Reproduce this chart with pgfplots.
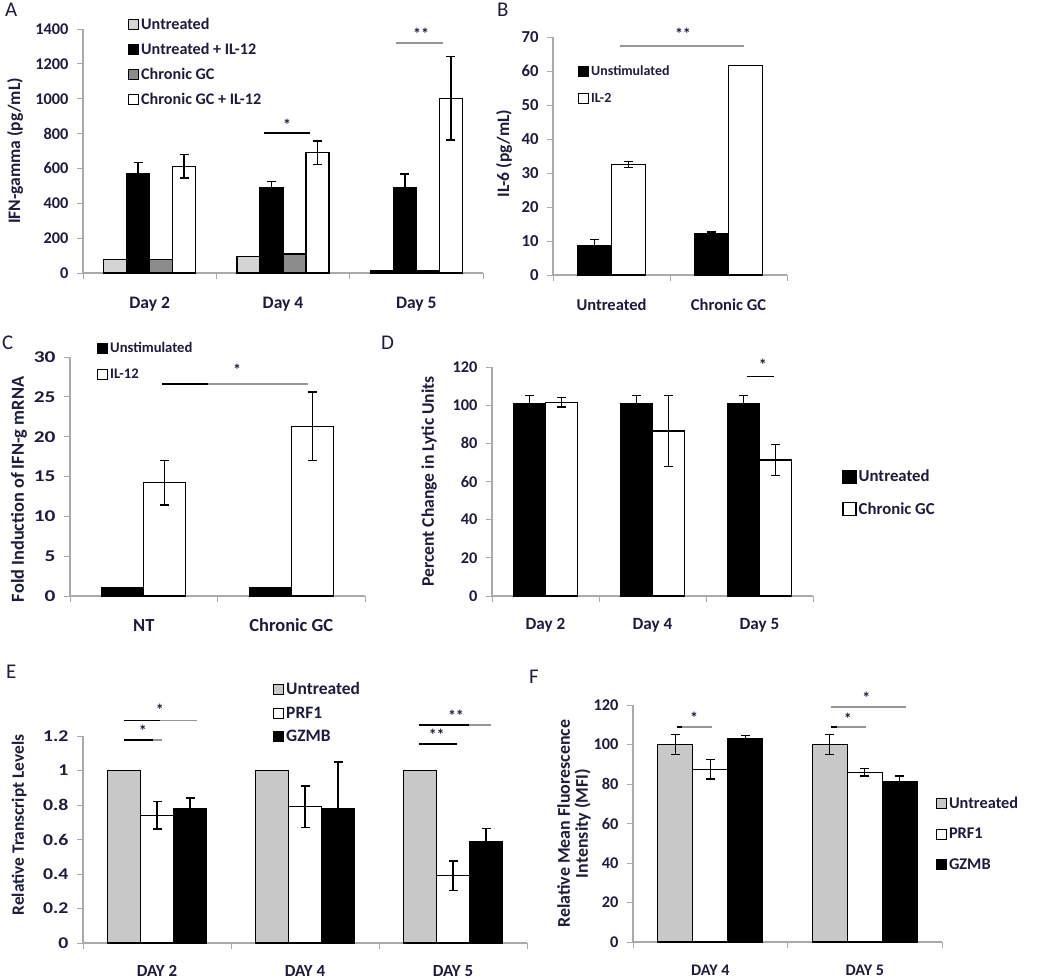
\documentclass[border=0pt]{standalone}
\usepackage{fontspec}
\setmainfont{Carlito}
\newfontfamily\widefont[FakeStretch=1.3]{Carlito}
\newfontfamily\midfont[FakeStretch=1.2]{Carlito}
\usepackage{pgfplots}
\pgfplotsset{compat=1.18}
\definecolor{txt}{RGB}{28,28,60}
\definecolor{lg}{RGB}{212,212,212}
\definecolor{mg}{RGB}{140,140,140}
\definecolor{eg}{RGB}{200,200,200}
\definecolor{axg}{RGB}{170,170,170}
\definecolor{sg}{RGB}{150,150,150}
\newcommand{\fs}[1]{\fontsize{#1}{#1}\selectfont}
\pgfplotsset{
  panel/.style={
    scale only axis, ybar=0pt, clip=false, ymin=0,
    axis x line*=bottom, axis y line*=left,
    axis line style={draw=axg, line width=1.2bp},
    tick align=outside, major tick length=6bp,
    tick style={draw=axg, line width=1bp},
    xticklabels={},
    extra x tick style={major tick length=0pt, tick style={draw=none}},
    tick label style={text=txt, font=\bfseries\fs{16.4}},
    xticklabel style={anchor=base, yshift=-35bp, font=\bfseries\fs{17.4}},
    yticklabel style={xshift=-5bp},
    /pgf/number format/assume math mode=true,
    /pgf/number format/1000 sep={},
    every axis y label/.style={rotate=90, anchor=center, text=txt},
    every axis plot/.append style={draw=black, line width=1.2bp},
    legend image code/.code={\draw[##1, line width=1bp] (0bp,-5bp) rectangle (10bp,5bp);},
    legend style={draw=none, fill=none, inner sep=0pt, anchor=north west, text=txt,
      legend cell align=left, /tikz/every even column/.append style={column sep=2bp}},
  },
  eb/.style={error bars/y dir=both, error bars/y explicit,
    error bars/error bar style={line width=1.4bp, black},
    error bars/error mark options={rotate=90, line width=1.4bp, black, mark size=4.5bp}},
}
\begin{document}
\begin{tikzpicture}[x=1bp,y=1bp]
\useasboundingbox (0,0) rectangle (1050,-980);
\node[anchor=north west, font=\fs{21}, text=txt, inner sep=0pt] at (5,-3) {A};
\node[anchor=north west, font=\fs{21}, text=txt, inner sep=0pt] at (497,-3) {B};
\node[anchor=north west, font=\fs{21}, text=txt, inner sep=0pt] at (2,-336) {C};
\node[anchor=north west, font=\fs{21}, text=txt, inner sep=0pt] at (381,-336) {D};
\node[anchor=north west, font=\fs{21}, text=txt, inner sep=0pt] at (6,-665) {E};
\node[anchor=north west, font=\fs{21}, text=txt, inner sep=0pt] at (529,-670) {F};

% ---------------- A
\begin{axis}[panel, at={(83bp,-273bp)}, anchor=south west, width=400bp, height=244bp,
  xmin=0.5, xmax=3.5, ymax=1400, ytick={0,200,...,1400}, bar width=23bp,
  xtick={0.5,1.5,2.5,3.5}, extra x ticks={1,2,3}, extra x tick labels={Day 2,Day 4,Day 5},
  xticklabel style={font=\bfseries\fs{17.6}},
  ylabel={IFN-gamma (pg/mL)}, ylabel style={at={(axis description cs:-0.17,0.5)}, font=\bfseries\fs{17.6}},
  legend style={at={(axis description cs:0.1125,1.053)}, font=\bfseries\fs{16.2}, row sep=8.3bp}]
\addplot[fill=lg] coordinates {(1,78) (2,94) (3,12)};
\addplot[fill=black, eb] coordinates {(1,570) +- (0,65) (2,492) +- (0,33) (3,492) +- (0,77)};
\addplot[fill=mg] coordinates {(1,78) (2,109) (3,12)};
\addplot[fill=white, eb] coordinates {(1,612) +- (0,68) (2,690) +- (0,67) (3,1003) +- (0,240)};
\legend{Untreated, Untreated + IL-12, Chronic GC, Chronic GC + IL-12}
\draw[black, line width=1.8bp] (axis cs:1.858,802) -- (axis cs:2.203,802);
\node[text=txt, font=\bfseries\fs{16}] at (axis cs:2.03,850) {*};
\draw[sg, line width=1.8bp] (axis cs:2.848,1321) -- (axis cs:3.2,1321);
\node[text=txt, font=\bfseries\fs{16}] at (axis cs:3.035,1375) {**};
\end{axis}

% ---------------- B
\begin{axis}[panel, at={(553bp,-275bp)}, anchor=south west, width=234bp, height=238bp,
  xmin=0.5, xmax=2.5, ymax=70, ytick={0,10,...,70}, bar width=34bp,
  yticklabel style={font=\bfseries\fs{16.8}},
  xtick={0.5,1.5,2.5}, extra x ticks={1,2}, extra x tick labels={Untreated,Chronic GC},
  xticklabel style={font=\bfseries\fs{16.6}},
  ylabel={IL-6 (pg/mL)}, ylabel style={at={(axis description cs:-0.209,0.51)}, font=\bfseries\fs{17.6}},
  legend style={at={(axis description cs:0.107,0.887)}, font=\bfseries\fs{14}, row sep=12bp}]
\addplot[fill=black, eb] coordinates {(1,8.7) +- (0,1.7) (2,12.1) +- (0,0.5)};
\addplot[fill=white, eb] coordinates {(1,32.5) +- (0,0.9) (2,61.6) +- (0,0)};
\legend{Unstimulated, IL-2}
\draw[sg, line width=2bp] (axis cs:1.073,67.5) -- (axis cs:2.132,67.5);
\node[text=txt, font=\bfseries\fs{16}] at (axis cs:1.611,70.8) {**};
\end{axis}

% ---------------- C
\begin{axis}[panel, at={(70bp,-596bp)}, anchor=south west, width=295bp, height=239bp,
  xmin=0.5, xmax=2.5, ymax=30, ytick={0,5,...,30}, bar width=42bp,
  yticklabel style={font=\widefont\bfseries\fs{16.5}},
  xtick={0.5,1.5,2.5}, extra x ticks={1,2}, extra x tick labels={NT,Chronic GC},
  xticklabel style={font=\bfseries\fs{18.5}},
  ylabel={Fold Induction of IFN-g mRNA}, ylabel style={at={(axis description cs:-0.173,0.446)}, font=\bfseries\fs{18.4}},
  legend style={at={(axis description cs:0.0915,1.071)}, font=\bfseries\fs{14.7}, row sep=11bp}]
\addplot[fill=black] coordinates {(1,1) (2,1)};
\addplot[fill=white, eb] coordinates {(1,14.2) +- (0,2.8) (2,21.3) +- (0,4.3)};
\legend{Unstimulated, IL-12}
\draw[black, line width=2bp] (axis cs:1.124,26.6) -- (axis cs:1.436,26.6);
\draw[sg, line width=2bp] (axis cs:1.436,26.6) -- (axis cs:2.114,26.6);
\node[text=txt, font=\bfseries\fs{16}] at (axis cs:1.632,28.4) {*};
\end{axis}

% ---------------- D
\begin{axis}[panel, at={(492bp,-596bp)}, anchor=south west, width=321bp, height=229bp,
  xmin=0.5, xmax=3.5, ymax=120, ytick={0,20,...,120}, bar width=32bp,
  xtick={0.5,1.5,2.5,3.5}, extra x ticks={1,2,3}, extra x tick labels={Day 2,Day 4,Day 5},
  xticklabel style={font=\bfseries\fs{17.2}, yshift=2bp},
  ylabel={Percent Change in Lytic Units}, ylabel style={at={(axis description cs:-0.196,0.5)}, font=\bfseries\fs{17.7}},
  legend image code/.code={\draw[#1, line width=1.6bp] (0bp,-6.5bp) rectangle (13bp,6.5bp);},
  legend style={at={(axis description cs:1.09,0.559)}, font=\bfseries\fs{16.8}, row sep=15bp}]
\addplot[fill=black, eb] coordinates {(1,101) +- (0,4) (2,101) +- (0,4) (3,101) +- (0,4)};
\addplot[fill=white, eb] coordinates {(1,101.5) +- (0,2.5) (2,86.5) +- (0,18.5) (3,71.3) +- (0,8)};
\legend{Untreated, Chronic GC}
\draw[black, line width=1.8bp] (axis cs:2.883,115) -- (axis cs:3.135,115);
\node[text=txt, font=\bfseries\fs{16}] at (axis cs:3.03,121) {*};
\end{axis}

% ---------------- E
\begin{axis}[panel, at={(83bp,-943bp)}, anchor=south west, width=444bp, height=207bp,
  xmin=0.5, xmax=3.5, ymax=1.2, ytick={0,0.2,0.4,0.6,0.8,1,1.2}, bar width=33bp,
  yticklabel style={font=\midfont\bfseries\fs{16.5}},
  xticklabel style={font=\bfseries\fs{17}, yshift=2bp},
  xtick={0.5,1.5,2.5,3.5}, extra x ticks={1,2,3}, extra x tick labels={DAY 2,DAY 4,DAY 5},
  ylabel={Relative Transcript Levels}, ylabel style={at={(axis description cs:-0.144,0.57)}, font=\bfseries\fs{17.4}},
  legend style={at={(axis description cs:0.428,1.27)}, font=\bfseries\fs{17.5}, row sep=6.7bp}]
\addplot[fill=eg] coordinates {(1,1) (2,1) (3,1)};
\addplot[fill=white, eb] coordinates {(1,0.74) +- (0,0.08) (2,0.79) +- (0,0.12) (3,0.39) +- (0,0.085)};
\addplot[fill=black, eb] coordinates {(1,0.78) +- (0,0.06) (2,0.78) +- (0,0.27) (3,0.59) +- (0,0.075)};
\legend{Untreated, PRF1, GZMB}
\draw[black, line width=1.8bp] (axis cs:0.777,1.177) -- (axis cs:0.973,1.177);
\draw[sg, line width=1.8bp] (axis cs:0.973,1.177) -- (axis cs:1.034,1.177);
\node[text=txt, font=\bfseries\fs{16}] at (axis cs:0.905,1.232) {*};
\draw[black, line width=1.8bp] (axis cs:0.777,1.29) -- (axis cs:1.02,1.29);
\draw[sg, line width=1.8bp] (axis cs:1.02,1.29) -- (axis cs:1.27,1.29);
\node[text=txt, font=\bfseries\fs{16}] at (axis cs:1.02,1.35) {*};
\draw[black, line width=1.8bp] (axis cs:2.77,1.156) -- (axis cs:3.027,1.156);
\node[text=txt, font=\bfseries\fs{16}] at (axis cs:2.89,1.205) {**};
\draw[black, line width=1.8bp] (axis cs:2.77,1.265) -- (axis cs:3.11,1.265);
\draw[sg, line width=1.8bp] (axis cs:3.11,1.265) -- (axis cs:3.26,1.265);
\node[text=txt, font=\bfseries\fs{16}] at (axis cs:3.02,1.32) {**};
\end{axis}

% ---------------- F
\begin{axis}[panel, at={(633bp,-942bp)}, anchor=south west, width=309bp, height=237bp,
  xmin=0.5, xmax=2.5, ymax=120, ytick={0,20,...,120}, bar width=35bp,
  xticklabel style={font=\bfseries\fs{16.2}, yshift=2bp},
  xtick={0.5,1.5,2.5}, extra x ticks={1,2}, extra x tick labels={DAY 4,DAY 5},
  ylabel={Relative Mean Fluorescence\\Intensity (MFI)}, ylabel style={align=center, at={(axis description cs:-0.191,0.5)}, font=\bfseries\fs{18}},
  legend style={at={(axis description cs:0.98,0.62)}, font=\bfseries\fs{16.4}, row sep=14bp}]
\addplot[fill=eg, eb] coordinates {(1,100) +- (0,5) (2,100) +- (0,5)};
\addplot[fill=white, eb] coordinates {(1,87.5) +- (0,5) (2,86) +- (0,2)};
\addplot[fill=black, eb] coordinates {(1,103) +- (0,1.5) (2,81) +- (0,3)};
\legend{Untreated, PRF1, GZMB}
\draw[black, line width=1.8bp] (axis cs:0.785,108.8) -- (axis cs:0.82,108.8);
\draw[sg, line width=1.8bp] (axis cs:0.82,108.8) -- (axis cs:1.01,108.8);
\node[text=txt, font=\bfseries\fs{16}] at (axis cs:0.895,113.5) {*};
\draw[black, line width=1.8bp] (axis cs:1.78,108.8) -- (axis cs:1.82,108.8);
\draw[sg, line width=1.8bp] (axis cs:1.82,108.8) -- (axis cs:2.01,108.8);
\node[text=txt, font=\bfseries\fs{16}] at (axis cs:1.89,113) {*};
\draw[sg, line width=1.8bp] (axis cs:1.78,119) -- (axis cs:2.27,119);
\node[text=txt, font=\bfseries\fs{16}] at (axis cs:2.01,123.5) {*};
\end{axis}
\end{tikzpicture}
\end{document}
